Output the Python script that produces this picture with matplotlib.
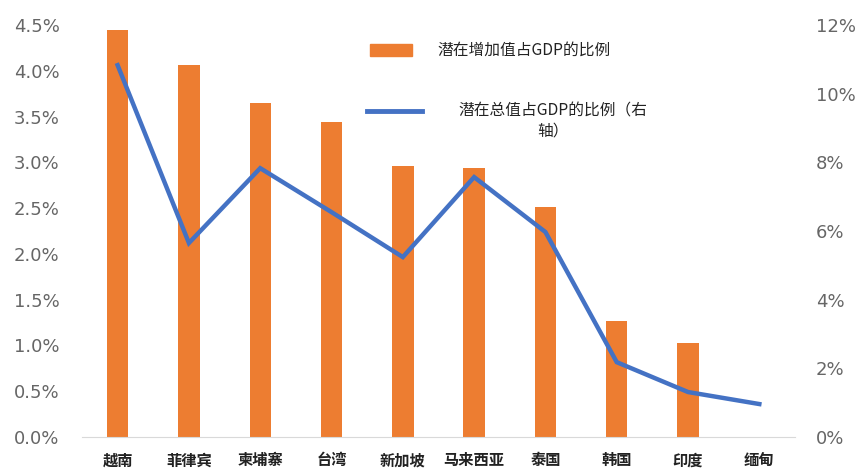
import matplotlib
matplotlib.use("Agg")
import matplotlib.pyplot as plt
from matplotlib.patches import Rectangle
from matplotlib.lines import Line2D
from matplotlib.ticker import FuncFormatter

plt.rcParams['font.family'] = ['Noto Sans CJK SC', 'DejaVu Sans']

# data
countries = ['越南', '菲律宾', '柬埔寨', '台湾', '新加坡', '马来西亚', '泰国', '韩国', '印度', '缅甸']
added_value_pct = [4.44, 4.06, 3.65, 3.44, 2.96, 2.94, 2.51, 1.27, 1.03, 0.0]
total_value_pct = [10.83, 5.65, 7.83, 6.55, 5.24, 7.57, 5.97, 2.18, 1.31, 0.96]

bar_color = '#ED7D31'
line_color = '#4472C4'
tick_color = '#666666'

fig = plt.figure(figsize=(8.6, 4.69), dpi=100)
ax = fig.add_axes([0.0953, 0.0682, 0.8291, 0.8785])
x = range(len(countries))
ax.bar(x, added_value_pct, width=0.3, color=bar_color, zorder=2)
ax.set_xlim(-0.5, len(countries) - 0.5)
ax.set_ylim(0, 4.5)
ax.set_yticks([i * 0.5 for i in range(10)])
ax.yaxis.set_major_formatter(FuncFormatter(lambda v, p: f'{v:.1f}%'))

ax2 = ax.twinx()
ax2.plot(x, total_value_pct, color=line_color, linewidth=3.2, solid_joinstyle='miter', zorder=3)
ax2.set_ylim(0, 12)
ax2.set_yticks(range(0, 13, 2))
ax2.yaxis.set_major_formatter(FuncFormatter(lambda v, p: f'{v:.0f}%'))

for a in (ax, ax2):
    for s in ('top', 'left', 'right'):
        a.spines[s].set_visible(False)
    a.spines['bottom'].set_color('#d9d9d9')
    a.tick_params(axis='both', length=0)
ax2.spines['bottom'].set_visible(False)

ax.tick_params(axis='y', labelsize=13, labelcolor=tick_color, pad=16)
ax2.tick_params(axis='y', labelsize=13, labelcolor=tick_color, pad=15)
for t in ax.get_yticklabels() + ax2.get_yticklabels():
    t.set_family('DejaVu Sans')
ax.set_xticks(list(x))
ax.set_xticklabels(countries, fontsize=11, color='#222222', fontweight='bold')
ax.tick_params(axis='x', pad=11)

# legend drawn by hand
fig.add_artist(Rectangle((370 / 860, 1 - 56 / 469), 42 / 860, 12 / 469,
                         transform=fig.transFigure, color=bar_color))
fig.text(437 / 860, 1 - 50 / 469, '潜在增加值占GDP的比例', fontsize=11.3, color='#222222',
         va='center', ha='left')
fig.add_artist(Line2D([367 / 860, 422 / 860], [1 - 111 / 469, 1 - 111 / 469],
                      transform=fig.transFigure, color=line_color, linewidth=3.5))
fig.text(553 / 860, 1 - 121 / 469, '潜在总值占GDP的比例（右\n轴）', fontsize=11.3,
         color='#222222', va='center', ha='center', linespacing=1.3)

fig.savefig('out.png', dpi=100)
